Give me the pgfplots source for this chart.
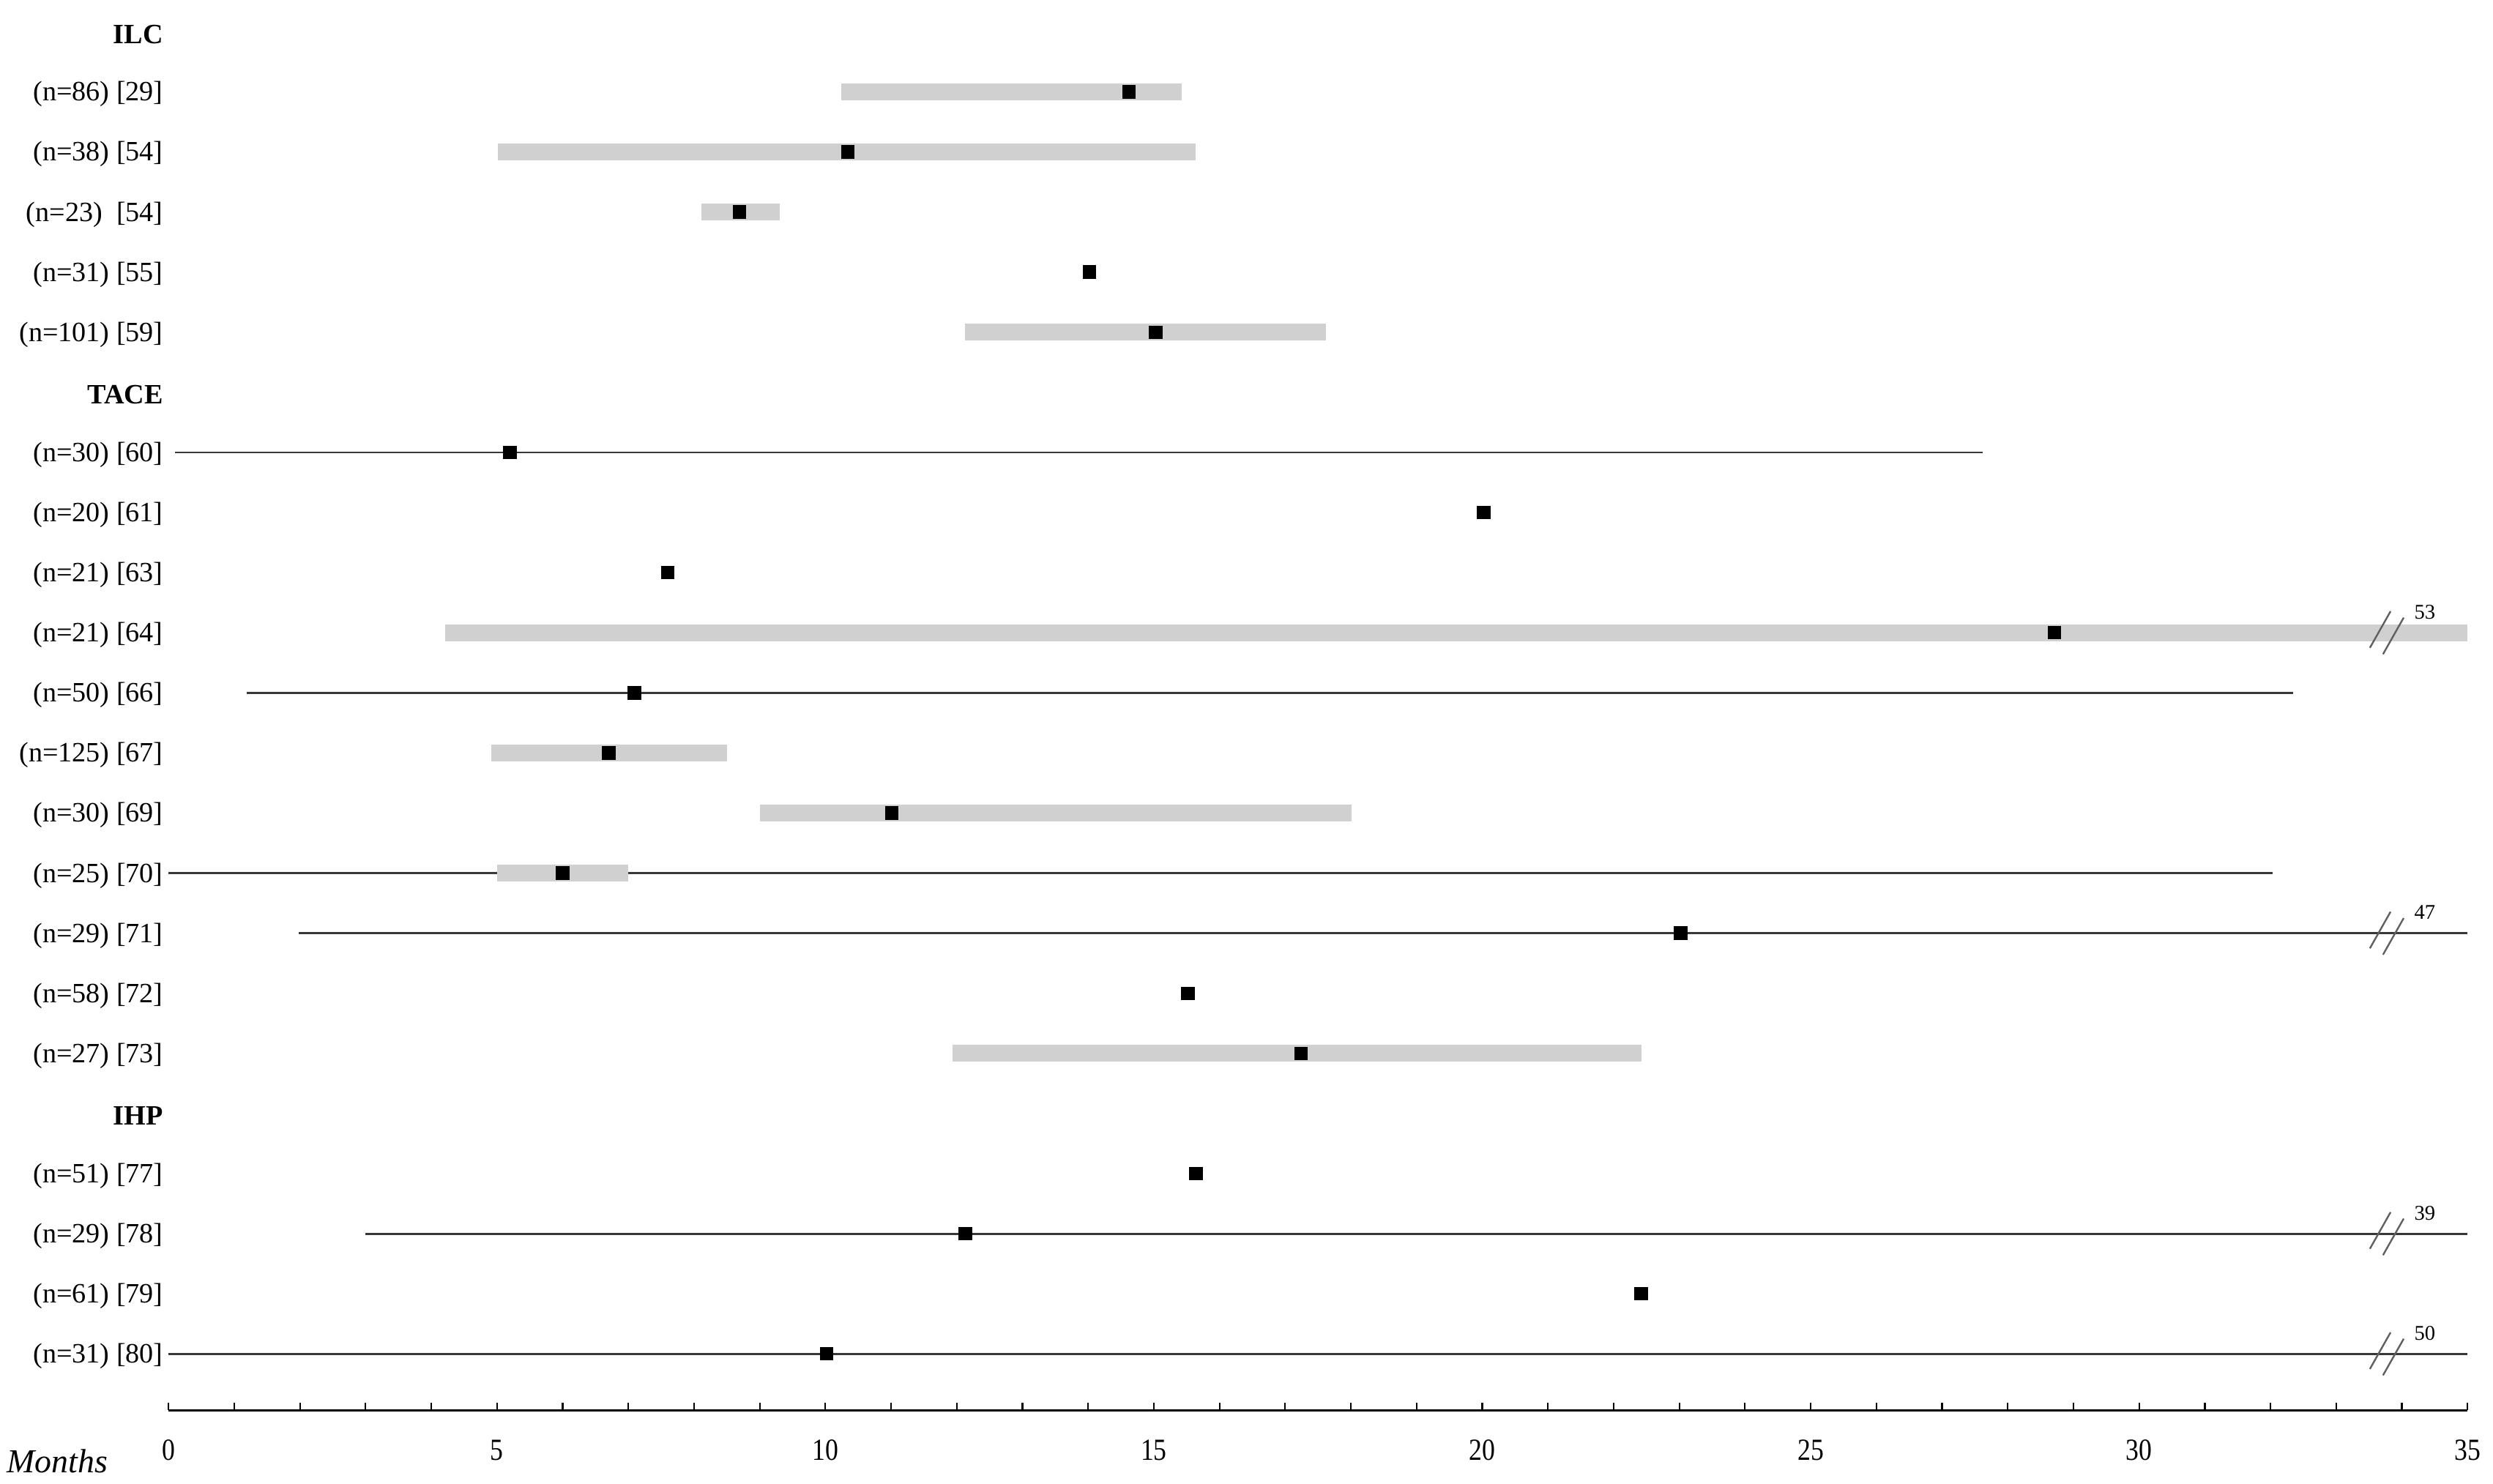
\documentclass[border=0pt]{standalone}
\usepackage{fontspec}
\setmainfont{Liberation Serif}
\newfontfamily\tickfont[FakeStretch=0.85]{Liberation Serif}
\usepackage{pgfplots}
\usepackage{pgfplotstable}
\pgfplotsset{compat=1.18}
\definecolor{bargray}{HTML}{D0D0D0}
\definecolor{whisk}{HTML}{383838}
\definecolor{slash}{HTML}{606060}

% grey bars: row, lower, upper, median (months)
\pgfplotstableread{
row lo hi med
1 10.24 15.42 14.62
2 5.01 15.64 10.34
3 8.11 9.30 8.69
5 12.13 17.62 15.03
10 4.21 35 28.71
12 4.91 8.50 6.70
13 9.00 18.01 11.01
14 5.00 7.00 6.00
17 11.93 22.42 17.24
}\bars

% thin range lines
\pgfplotstableread{
row lo hi med
7 0.10 27.62 5.20
11 1.19 32.34 7.09
14 0.00 32.03 6.00
15 1.98 35 23.02
20 3.00 35 12.13
22 0.00 35 10.02
}\ranges

% medians
\pgfplotstableread{
row med
1 14.62
2 10.34
3 8.69
4 14.02
5 15.03
7 5.20
8 20.02
9 7.60
10 28.71
11 7.09
12 6.70
13 11.01
14 6.00
15 23.02
16 15.52
17 17.24
19 15.64
20 12.13
21 22.42
22 10.02
}\medians

% axis break on row #1 with true end value #2
\newcommand{\brk}[2]{%
  \draw[line width=0.22mm,draw=slash] (axis cs:33.67,-#1) ++(-1.3mm,-1.9mm) -- ++(2.6mm,4.6mm);
  \draw[line width=0.22mm,draw=slash] (axis cs:33.87,-#1) ++(-1.3mm,-2.7mm) -- ++(2.6mm,4.6mm);
  \node[font=\fontsize{7.5}{9}\selectfont,inner sep=0pt,yshift=2.6mm] at (axis cs:34.35,-#1) {#2};
}

\begin{document}
\begin{tikzpicture}
\begin{axis}[
  scale only axis, width=289.2mm, height=177.4mm,
  xmin=0, xmax=35, ymin=-22.937, ymax=0.529,
  axis lines*=left,
  y axis line style={draw=none},
  x axis line style={line width=0.25mm,draw=black},
  xtick={0,5,...,35}, minor x tick num=4,
  tick align=inside,
  major tick length=0.95mm, minor tick length=0.95mm,
  x tick style={line width=0.2mm,draw=black},
  ytick={-22,...,0}, y tick style={draw=none},
  yticklabels={
    {(n=31) [80]},{(n=61) [79]},{(n=29) [78]},{(n=51) [77]},{\textbf{IHP}},
    {(n=27) [73]},{(n=58) [72]},{(n=29) [71]},{(n=25) [70]},{(n=30) [69]},
    {(n=125) [67]},{(n=50) [66]},{(n=21) [64]},{(n=21) [63]},{(n=20) [61]},
    {(n=30) [60]},{\textbf{TACE}},
    {(n=101) [59]},{(n=31) [55]},{(n=23)\ \ [54]},{(n=38) [54]},{(n=86) [29]},
    {\textbf{ILC}}},
  yticklabel style={font=\fontsize{10}{12}\selectfont,anchor=east,xshift=0.55mm,yshift=-0.3mm,text=black},
  xticklabel style={font=\tickfont\fontsize{11}{13}\selectfont,anchor=north,yshift=-2.5mm,text=black},
  /pgf/number format/assume math mode=true,
  clip=false]

  \addplot[only marks,mark=none,forget plot,
    error bars/.cd,x dir=both,x explicit,error mark=none,
    error bar style={line width=0.27mm,draw=whisk}]
    table[x=med,y expr=-\thisrow{row},
      x error plus expr=\thisrow{hi}-\thisrow{med},
      x error minus expr=\thisrow{med}-\thisrow{lo}] {\ranges};

  \addplot[only marks,mark=none,forget plot,
    error bars/.cd,x dir=both,x explicit,error mark=none,
    error bar style={line width=2.14mm,draw=bargray}]
    table[x=med,y expr=-\thisrow{row},
      x error plus expr=\thisrow{hi}-\thisrow{med},
      x error minus expr=\thisrow{med}-\thisrow{lo}] {\bars};

  \addplot[only marks,mark=square*,mark size=0.78mm,
    mark options={fill=black,draw=none}]
    table[x=med,y expr=-\thisrow{row}] {\medians};

  \brk{10}{53}
  \brk{15}{47}
  \brk{20}{39}
  \brk{22}{50}

  \node[anchor=base west,inner sep=0pt,font=\itshape\fontsize{12}{14}\selectfont,
    xshift=-20.4mm,yshift=-7.9mm] at (rel axis cs:0,0) {Months};
  \coordinate (O) at (rel axis cs:0,0);
\end{axis}
\path (O) ++(-21.2mm,-9.2mm) rectangle ++(313.6mm,186.6mm);
\end{tikzpicture}
\end{document}
